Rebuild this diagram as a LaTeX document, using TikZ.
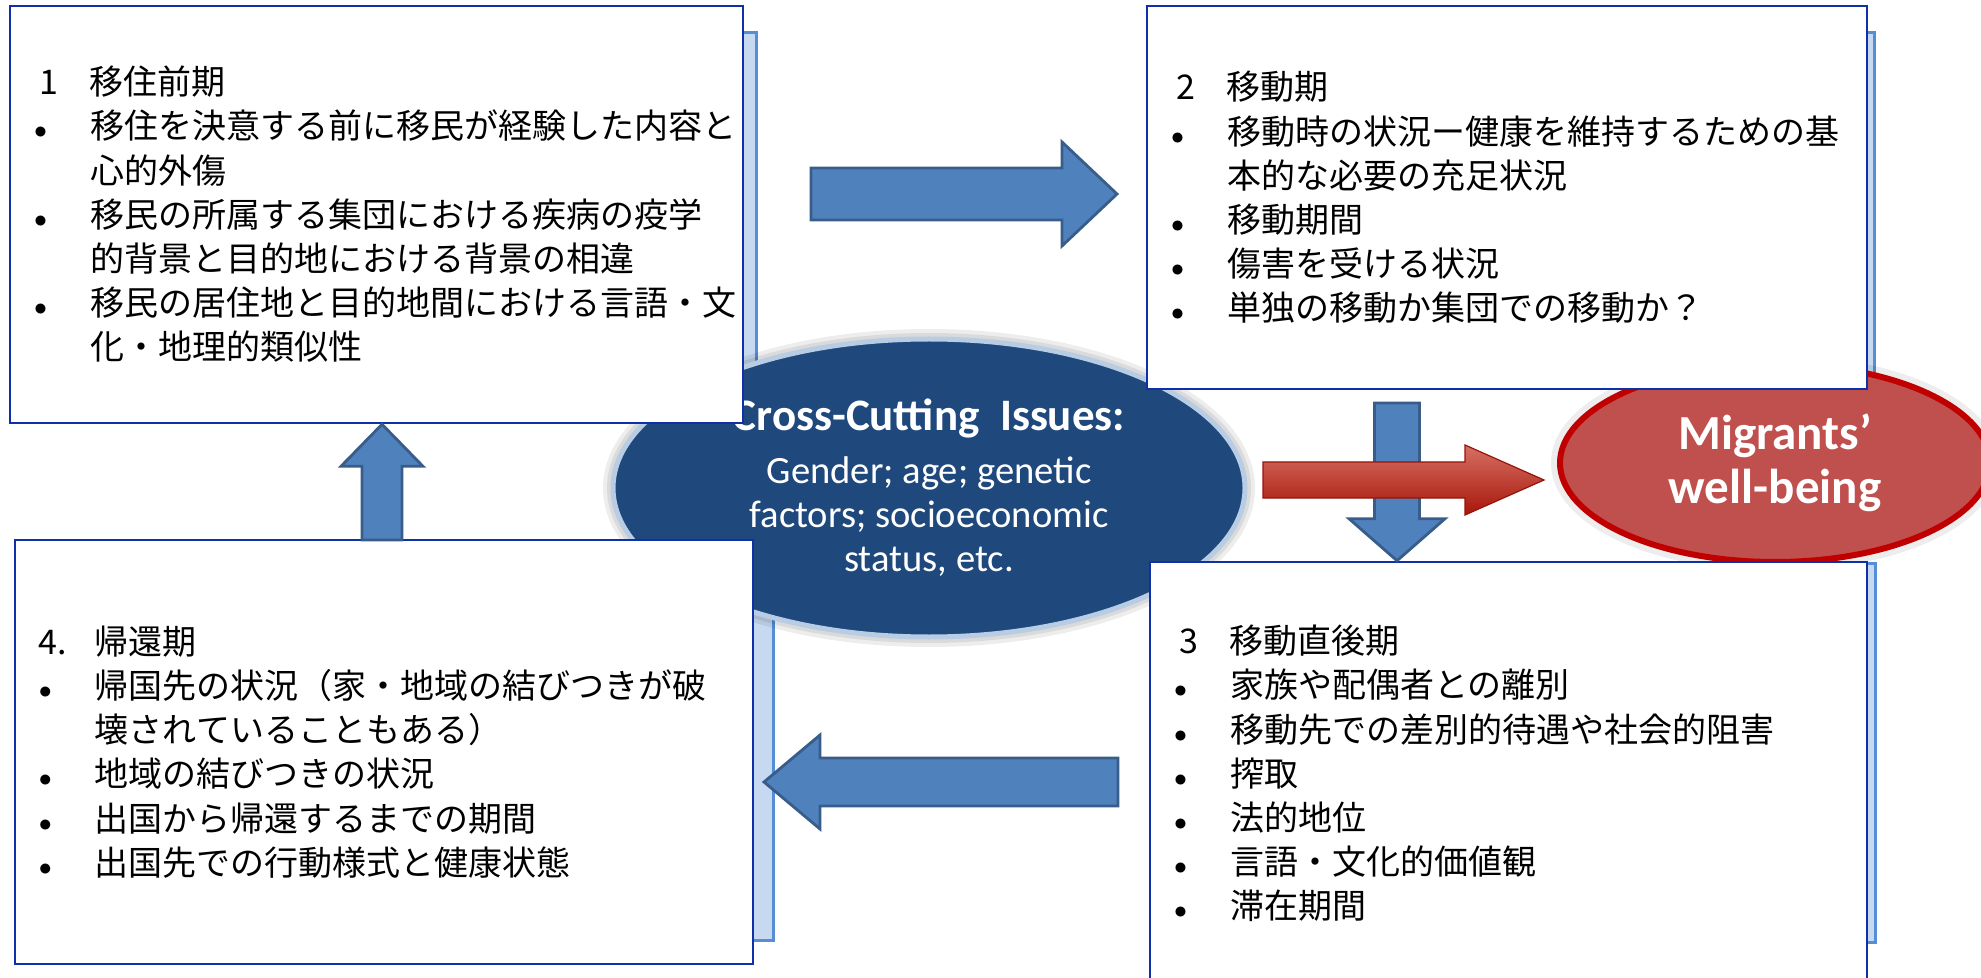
\documentclass[tikz,border=0pt]{standalone}
\usepackage{fontspec}
\usepackage{tikz}
\usetikzlibrary{calc, positioning, shapes.geometric}

\newfontfamily\jpfont{Noto Sans CJK JP}
\newfontfamily\labelfont{Carlito}

\definecolor{stageblue}{RGB}{16,48,168}
\definecolor{shadeblue}{RGB}{85,142,213}
\definecolor{shadefill}{RGB}{198,217,241}
\definecolor{arrowfill}{RGB}{79,129,189}
\definecolor{arrowline}{RGB}{56,93,138}
\definecolor{issuefill}{RGB}{31,73,125}
\definecolor{issueline}{RGB}{184,204,228}
\definecolor{goalfill}{RGB}{192,80,77}
\definecolor{goalline}{RGB}{192,0,0}
\definecolor{redtop}{RGB}{214,112,100}
\definecolor{redmid}{RGB}{178,30,18}
\definecolor{redbot}{RGB}{168,22,10}
\definecolor{redline}{RGB}{150,20,10}

% bullet list inside the stage boxes
\newlength{\itemind}\setlength{\itemind}{28pt}
\newcommand{\stagehead}[2]{\makebox[\itemind][l]{#1}#2}
\newcommand{\stageitem}[1]{\makebox[\itemind][l]{\scalebox{0.75}{$\bullet$}}#1}
\newcommand{\stagecont}[1]{\hspace*{\itemind}#1}

% block arrow: [style]{from}{to}{half shaft}{half head}{head length}
\newcommand{\blockarrow}[6][]{%
  \coordinate (hb) at ($(#3)!#6!(#2)$);
  \path[#1] ($(#2)!#4!90:(#3)$) -- ($(hb)!#4!90:(#3)$) -- ($(hb)!#5!90:(#3)$) -- (#3)
    -- ($(hb)!#5!-90:(#3)$) -- ($(hb)!#4!-90:(#3)$) -- ($(#2)!#4!-90:(#3)$) -- cycle;
}

\tikzset{
    stage/.style={rectangle, draw=stageblue, line width=1.3pt, fill=white, inner xsep=12pt, inner ysep=0pt, align=left, text width=#1, font=\jpfont\fontsize{17}{22.1}\selectfont},
    stageshade/.style={draw=shadeblue, line width=1.5pt, fill=shadefill},
    bluearrow/.style={draw=arrowline, line width=1.4pt, fill=arrowfill},
    redarrow/.style={draw=redline, line width=0.6pt, top color=redtop, middle color=redmid, bottom color=redbot},
    issue/.style={ellipse, draw=issueline, line width=2.5pt, fill=issuefill, inner sep=0pt,
        preaction={draw=black, opacity=0.07, line width=10pt}, preaction={draw=black, opacity=0.08, line width=6pt}},
    goal/.style={ellipse, draw=goalline, line width=3pt, fill=goalfill, inner sep=0pt,
        preaction={draw=black, opacity=0.07, line width=9pt}},
    issuetext/.style={text=white, align=center, inner sep=0pt, font=\labelfont\fontsize{19.3}{22}\selectfont},
    goaltext/.style={text=white, align=center, inner sep=0pt, font=\labelfont\bfseries\fontsize{24.5}{27}\selectfont}
}

\begin{document}
\begin{tikzpicture}[x=0.5pt, y=-0.5pt]
    \useasboundingbox (0,0) rectangle (1981,978);

    % strips behind the boxes
    \path[stageshade] (700,33) rectangle (756,430);
    \path[stageshade] (1800,33) rectangle (1874,389);
    \path[stageshade] (1800,563) rectangle (1875,942);
    \path[stageshade] (700,560) rectangle (773,940);

    % centre and goal
    \node[issue, minimum width=316pt, minimum height=149pt] (issues) at (929,488) {};
    \node[issuetext] (issuesT) at (issues.center) {{\fontsize{22.5}{22}\selectfont\bfseries Cross-Cutting\ \ Issues:}\\[4.5pt]
        Gender; age; genetic\\ factors; socioeconomic\\ status, etc.};
    \node[goal, minimum width=215pt, minimum height=99pt] (wellbeing) at (1775,463) {};
    \node[goaltext] (wellbeingT) at (wellbeing.center) {Migrants’\\ well-being};

    % the four stages
    \node[stage=342.5pt, minimum height=208.5pt] (pre) at (376.5,214.5) {%
        \stagehead{\hspace{2.5pt}1}{移住前期}\\
        \stageitem{移住を決意する前に移民が経験した内容と}\\
        \stagecont{心的外傷}\\
        \stageitem{移民の所属する集団における疾病の疫学}\\
        \stagecont{的背景と目的地における背景の相違}\\
        \stageitem{移民の居住地と目的地間における言語・文}\\
        \stagecont{化・地理的類似性}};
    \node[stage=336pt, minimum height=191.5pt] (transit) at (1507,197.5) {%
        \stagehead{\hspace{2.5pt}2}{移動期}\\
        \stageitem{移動時の状況ー健康を維持するための基}\\
        \stagecont{本的な必要の充足状況}\\
        \stageitem{移動期間}\\
        \stageitem{傷害を受ける状況}\\
        \stageitem{単独の移動か集団での移動か？}};
    \node[stage=334.5pt, minimum height=211.5pt] (post) at (1508.5,773.5) {%
        \stagehead{\hspace{2.5pt}3}{移動直後期}\\
        \stageitem{家族や配偶者との離別}\\
        \stageitem{移動先での差別的待遇や社会的阻害}\\
        \stageitem{搾取}\\
        \stageitem{法的地位}\\
        \stageitem{言語・文化的価値観}\\
        \stageitem{滞在期間}};
    \node[stage=345pt, minimum height=212pt] (ret) at (384,752) {%
        \stagehead{4.}{帰還期}\\
        \stageitem{帰国先の状況（家・地域の結びつきが破}\\
        \stagecont{壊されていることもある）}\\
        \stageitem{地域の結びつきの状況}\\
        \stageitem{出国から帰還するまでの期間}\\
        \stageitem{出国先での行動様式と健康状態}};

    % arrows between stages
    \coordinate (rightS) at (811,194);
    \coordinate (rightE) at (1117,194);
    \coordinate (downS) at (1397,403);
    \coordinate (downE) at (downS |- post.north);
    \coordinate (leftS) at (1118,782);
    \coordinate (leftE) at (764,782);
    \coordinate (upS) at (382,540);
    \coordinate (upE) at (upS |- pre.south);
    \blockarrow[bluearrow]{rightS}{rightE}{13pt}{26pt}{27.5pt}
    \blockarrow[bluearrow]{downS}{downE}{11.25pt}{24pt}{21pt}
    \blockarrow[bluearrow]{leftS}{leftE}{12pt}{23.5pt}{28pt}
    \blockarrow[bluearrow]{upS}{upE}{10pt}{20.5pt}{21pt}

    % towards well-being
    \coordinate (goalS) at (1263,480);
    \coordinate (goalE) at (1544,480);
    \blockarrow[redarrow]{goalS}{goalE}{9pt}{17.5pt}{39.5pt}
\end{tikzpicture}
\end{document}
